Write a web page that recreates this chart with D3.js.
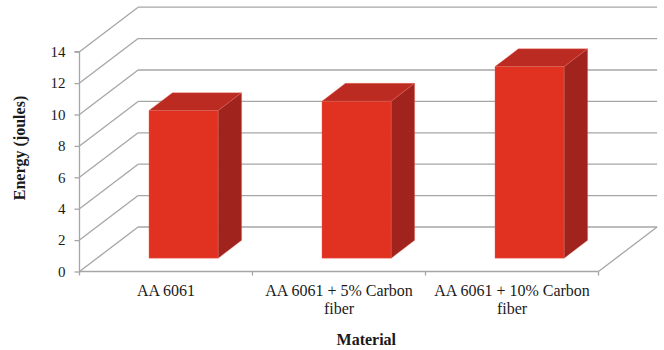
<!DOCTYPE html>
<html>
<head>
<meta charset="utf-8">
<script src="https://cdn.jsdelivr.net/npm/d3@7"></script>
<style>
  html, body { margin: 0; padding: 0; background: #ffffff; }
  svg { display: block; }
</style>
</head>
<body>
<svg id="chart" width="664" height="350"></svg>
<script>
// Impact energy per material
const categories = ["AA 6061", "AA 6061 + 5% Carbon fiber", "AA 6061 + 10% Carbon fiber"];
const energy = [9.4, 10.0, 12.2];
const yTicks = [0, 2, 4, 6, 8, 10, 12, 14];
const yTitle = "Energy (joules)";
const xTitle = "Material";

const serif = '"Liberation Serif", serif';
const ink = "#1a1a1a";
const svg = d3.select("#chart");

// Front plane of the 3-D plot box and the oblique depth offset
const front = { left: 79.5, right: 598.5, top: 51.7, bottom: 271.5 };
const depth = { dx: 58.6, dy: -44.5 };
// Columns occupy the middle 40% of the box depth
const barDepth0 = 0.3, barDepth1 = 0.7;

const y = d3.scaleLinear().domain([0, 14]).range([front.bottom, front.top]);
const x = d3.scaleBand().domain(categories).range([front.left, front.right]).paddingInner(0.6).paddingOuter(0.3);
const step = x.step();

const gridColor = "#a6a6a6";
const grid = svg.append("g").attr("stroke", gridColor).attr("stroke-width", 1.3).attr("fill", "none");

// Back wall gridlines and side wall diagonals
yTicks.forEach(v => {
  const yf = y(v);
  grid.append("line")
    .attr("x1", front.left + depth.dx).attr("x2", front.right + depth.dx)
    .attr("y1", yf + depth.dy).attr("y2", yf + depth.dy);
  grid.append("line")
    .attr("x1", front.left).attr("y1", yf)
    .attr("x2", front.left + depth.dx).attr("y2", yf + depth.dy);
});

// Floor: front edge and right edge
grid.append("line")
  .attr("x1", front.left).attr("x2", front.right)
  .attr("y1", y(0)).attr("y2", y(0)).attr("stroke-width", 1.6);
grid.append("line")
  .attr("x1", front.right).attr("y1", y(0))
  .attr("x2", front.right + depth.dx).attr("y2", y(0) + depth.dy);

// Category tick marks at band boundaries on the floor front edge
d3.range(categories.length + 1).forEach(i => {
  const tx = front.left + i * step;
  grid.append("line")
    .attr("x1", tx).attr("x2", tx)
    .attr("y1", y(0)).attr("y2", y(0) + 4);
});

// Value axis
const yAxis = d3.axisLeft(y).tickValues(yTicks).tickSize(5).tickPadding(9).tickFormat(d3.format("d"));
const ya = svg.append("g").attr("transform", `translate(${front.left},0)`).call(yAxis);
ya.select(".domain").attr("stroke", gridColor).attr("stroke-width", 1.3)
  .attr("d", `M-5,${y(14)}H0V${y(0) + 1.5}`);
ya.selectAll(".tick line").attr("stroke", gridColor).attr("stroke-width", 1.3);
ya.selectAll(".tick text").attr("fill", ink).attr("font-family", serif).attr("font-size", 15);

// 3-D columns
const frontColor = "#e03121", topColor = "#bc2b22", sideColor = "#a0231d";
const bars = svg.append("g");
categories.forEach((c, i) => {
  const ox = depth.dx * barDepth0, oy = depth.dy * barDepth0;
  const bx = depth.dx * (barDepth1 - barDepth0), by = depth.dy * (barDepth1 - barDepth0);
  const x0 = x(c) + ox, x1 = x(c) + x.bandwidth() + ox;
  const yb = y(0) + oy, yt = y(energy[i]) + oy;
  const g = bars.append("g");
  g.append("path").attr("fill", frontColor)
    .attr("d", `M${x0},${yb}L${x1},${yb}L${x1},${yt}L${x0},${yt}Z`);
  g.append("path").attr("fill", topColor)
    .attr("d", `M${x0},${yt}L${x1},${yt}L${x1 + bx},${yt + by}L${x0 + bx},${yt + by}Z`);
  g.append("path").attr("fill", sideColor)
    .attr("d", `M${x1},${yb}L${x1 + bx},${yb + by}L${x1 + bx},${yt + by}L${x1},${yt}Z`);
  g.selectAll("path").attr("stroke", "#ec6a5c").attr("stroke-width", 0.6).attr("stroke-opacity", 0.6)
    .attr("stroke-linejoin", "round");
});

// Category labels, wrapped to the band width
categories.forEach(c => {
  const cx = x(c) + x.bandwidth() / 2;
  const t = svg.append("text").attr("x", cx).attr("y", 296)
    .attr("font-family", serif).attr("font-size", 16).attr("text-anchor", "middle").attr("fill", ink);
  const words = c.split(" ");
  let line = [];
  let tspan = t.append("tspan").attr("x", cx).attr("dy", 0);
  words.forEach(w => {
    line.push(w);
    tspan.text(line.join(" "));
    if (tspan.node().getComputedTextLength() > step - 8 && line.length > 1) {
      line.pop();
      tspan.text(line.join(" "));
      line = [w];
      tspan = t.append("tspan").attr("x", cx).attr("dy", 18.4).text(w);
    }
  });
});

// Axis titles
svg.append("text")
  .attr("x", (front.left + front.right + depth.dx) / 2 - 2).attr("y", 345)
  .attr("text-anchor", "middle").attr("font-family", serif).attr("font-size", 16)
  .attr("font-weight", "bold").attr("fill", ink)
  .text(xTitle);
svg.append("text")
  .attr("transform", "translate(25,148) rotate(-90)")
  .attr("text-anchor", "middle").attr("font-family", serif).attr("font-size", 16)
  .attr("font-weight", "bold").attr("fill", ink)
  .text(yTitle);
</script>
</body>
</html>
